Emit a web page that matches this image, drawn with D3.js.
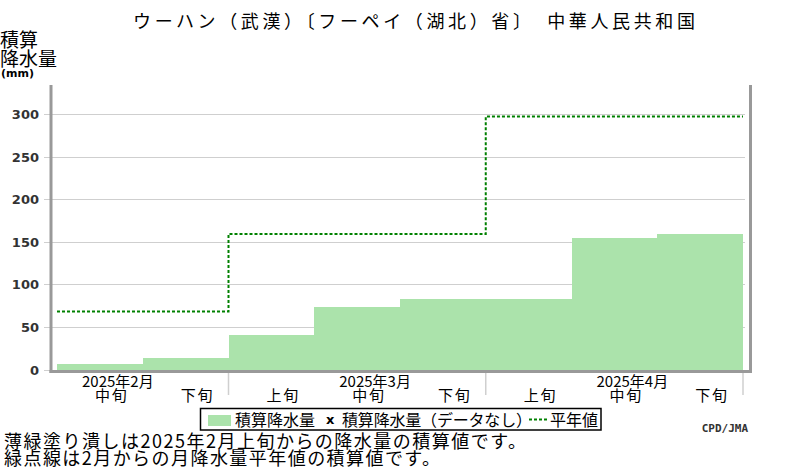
<!DOCTYPE html>
<html>
<head>
<meta charset="utf-8">
<script src="https://cdn.jsdelivr.net/npm/d3@7"></script>
<style>
  body { margin: 0; background: #fff; }
  svg text { font-family: "Noto Sans CJK JP", sans-serif; }
</style>
</head>
<body>
<div id="chart"></div>
<script>
///// DATA /////
var months = ["2025年2月", "2025年3月", "2025年4月"];
var decades = ["中旬", "下旬", "上旬", "中旬", "下旬", "上旬", "中旬", "下旬"];
var decadeMonth = [0, 0, 1, 1, 1, 2, 2, 2];
// cumulative precipitation at end of each decade (mm)
var precip = [7, 14, 40.5, 73.5, 83, 83, 154.5, 159];
// cumulative monthly normals (mm)
var normals = [68, 159, 297];
var yTicks = [0, 50, 100, 150, 200, 250, 300];

var width = 800;
var height = 470;

var svg = d3.select("#chart").append("svg")
  .attr("width", width)
  .attr("height", height);

svg.append("rect")
  .attr("width", "100%")
  .attr("height", "100%")
  .attr("fill", "#fff");

// scales
var x = d3.scaleLinear()
  .domain([0, decades.length])
  .range([57, 743]);

var y = d3.scaleLinear()
  .domain([0, 300])
  .range([369.5, 114]);

// title
svg.append("text")
  .attr("x", 133)
  .attr("y", 28)
  .attr("textLength", 562)
  .attr("lengthAdjust", "spacing")
  .style("font-size", "18px")
  .style("fill", "#000")
  .text("ウーハン（武漢）〔フーペイ（湖北）省〕　中華人民共和国");

// y axis title
svg.append("text").attr("x", 0).attr("y", 47)
  .style("font-size", "19px").text("積算");
svg.append("text").attr("x", 0).attr("y", 66)
  .style("font-size", "19px").text("降水量");
svg.append("text").attr("x", 1).attr("y", 77)
  .style("font-family", "DejaVu Sans").style("font-weight", "bold")
  .style("font-size", "11px").text("(mm)");

// grid lines
svg.append("g").selectAll("line")
  .data(yTicks)
  .enter().append("line")
  .attr("x1", 44)
  .attr("x2", 745)
  .attr("y1", function (d) { return Math.round(y(d)) + 0.5; })
  .attr("y2", function (d) { return Math.round(y(d)) + 0.5; })
  .attr("stroke", "#cfcfcf")
  .attr("stroke-width", 1.2);

svg.append("g").selectAll("text")
  .data(yTicks)
  .enter().append("text")
  .attr("x", 39)
  .attr("y", function (d) { return y(d) + 5; })
  .attr("text-anchor", "end")
  .style("font-family", "DejaVu Sans")
  .style("font-weight", "bold")
  .style("font-size", "13px")
  .style("fill", "#333")
  .text(function (d) { return d; });

// bars
svg.append("g").selectAll("rect")
  .data(precip)
  .enter().append("rect")
  .attr("x", function (d, i) { return x(i); })
  .attr("width", function (d, i) { return x(i + 1) - x(i); })
  .attr("y", function (d) { return y(d); })
  .attr("height", function (d) { return y(0) - y(d); })
  .attr("fill", "#abe3ab")
  .attr("shape-rendering", "crispEdges");

// normal step line
var stepPts = decadeMonth.map(function (m, i) { return [i, normals[m]]; });
stepPts.push([decades.length, normals[normals.length - 1]]);

var line = d3.line()
  .x(function (d) { return x(d[0]); })
  .y(function (d) { return y(d[1]); })
  .curve(d3.curveStepAfter);

svg.append("path")
  .datum(stepPts)
  .attr("d", line)
  .attr("fill", "none")
  .attr("stroke", "#008000")
  .attr("stroke-width", 2)
  .attr("stroke-dasharray", "3,2");

// frame
svg.append("line").attr("x1", 51).attr("x2", 51).attr("y1", 85).attr("y2", 373)
  .attr("stroke", "#999").attr("stroke-width", 3);
svg.append("line").attr("x1", 750.5).attr("x2", 750.5).attr("y1", 85).attr("y2", 373)
  .attr("stroke", "#999").attr("stroke-width", 3);
svg.append("line").attr("x1", 49.5).attr("x2", 752).attr("y1", 371.5).attr("y2", 371.5)
  .attr("stroke", "#999").attr("stroke-width", 3);

// month separators below axis
var monthEnds = [];
decadeMonth.forEach(function (m, i) {
  if (i === decadeMonth.length - 1 || decadeMonth[i + 1] !== m) monthEnds.push(i + 1);
});
svg.append("g").selectAll("line")
  .data(monthEnds)
  .enter().append("line")
  .attr("x1", function (d) { return x(d); })
  .attr("x2", function (d) { return x(d); })
  .attr("y1", 373)
  .attr("y2", 395)
  .attr("stroke", "#cfcfcf")
  .attr("stroke-width", 1.5);

// decade labels
svg.append("g").selectAll("text")
  .data(decades)
  .enter().append("text")
  .attr("x", function (d, i) { return x(i + 0.5) + 11; })
  .attr("y", 401)
  .attr("text-anchor", "middle")
  .attr("textLength", 32)
  .attr("lengthAdjust", "spacing")
  .style("font-size", "15px")
  .text(function (d) { return d; });

// month labels, placed over the middle decade
svg.append("g").selectAll("text")
  .data(months)
  .enter().append("text")
  .attr("x", function (d, i) {
    var idx = decades.findIndex(function (dd, j) { return decadeMonth[j] === i && dd === "中旬"; });
    return x(idx + 0.5) + 18;
  })
  .attr("y", 387)
  .attr("text-anchor", "middle")
  .style("font-size", "15px")
  .text(function (d) { return d; });

// legend
var lg = svg.append("g");
lg.append("rect")
  .attr("x", 200.5).attr("y", 408.5).attr("width", 400.5).attr("height", 21.5)
  .attr("fill", "#fff").attr("stroke", "#000").attr("stroke-width", 1.5);
lg.append("rect")
  .attr("x", 208).attr("y", 415).attr("width", 23).attr("height", 11)
  .attr("fill", "#abe3ab");
lg.append("text").attr("x", 235).attr("y", 426)
  .style("font-size", "16px").text("積算降水量");
lg.append("text").attr("x", 326).attr("y", 424)
  .style("font-family", "DejaVu Sans").style("font-weight", "bold")
  .style("font-size", "13px").text("x");
lg.append("text").attr("x", 342).attr("y", 426)
  .attr("textLength", 190).attr("lengthAdjust", "spacing")
  .style("font-size", "16px").text("積算降水量（データなし）");
lg.append("line")
  .attr("x1", 529).attr("x2", 547).attr("y1", 419.5).attr("y2", 419.5)
  .attr("stroke", "#008000").attr("stroke-width", 2).attr("stroke-dasharray", "3,2");
lg.append("text").attr("x", 550).attr("y", 426)
  .style("font-size", "16px").text("平年値");

// credit
svg.append("text")
  .attr("x", 748).attr("y", 432)
  .attr("text-anchor", "end")
  .style("font-family", "DejaVu Sans Mono")
  .style("font-weight", "bold")
  .style("font-size", "11px")
  .style("fill", "#333")
  .text("CPD/JMA");

// notes
svg.append("text")
  .attr("x", 4).attr("y", 448)
  .attr("textLength", 522).attr("lengthAdjust", "spacing")
  .style("font-size", "18px")
  .text("薄緑塗り潰しは2025年2月上旬からの降水量の積算値です。");
svg.append("text")
  .attr("x", 4).attr("y", 465)
  .attr("textLength", 436).attr("lengthAdjust", "spacing")
  .style("font-size", "18px")
  .text("緑点線は2月からの月降水量平年値の積算値です。");
</script>
</body>
</html>
